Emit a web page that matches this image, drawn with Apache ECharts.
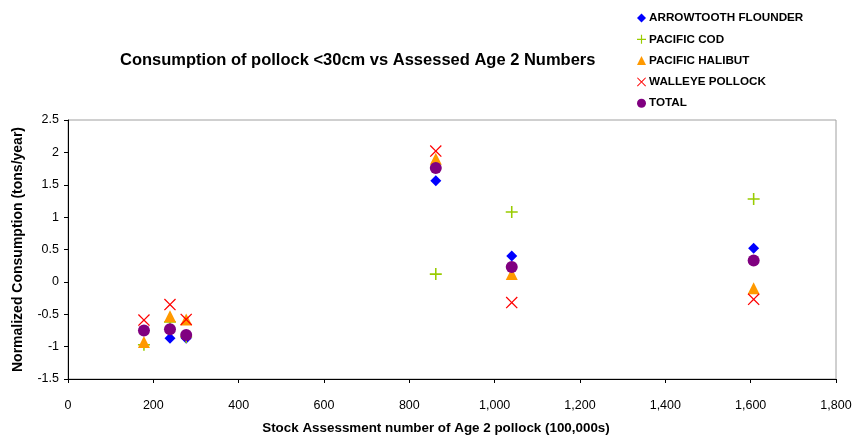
<!DOCTYPE html>
<html>
<head>
<meta charset="utf-8">
<script src="https://cdn.jsdelivr.net/npm/echarts@6/dist/echarts.min.js"></script>
<style>html,body{margin:0;padding:0;background:#fff}#c{width:856px;height:440px}</style>
</head>
<body>
<div id="c"></div>
<script>
var stockX = [178, 239, 277, 862, 1040, 1607];
var arrowtooth = [-0.75, -0.87, -0.87, 1.56, 0.40, 0.52];
var pacificCod = [-0.97, -0.62, -0.85, 0.12, 1.08, 1.28];
var halibut = [-0.93, -0.53, -0.58, 1.90, 0.12, -0.10];
var walleye = [-0.59, -0.35, -0.58, 2.02, -0.32, -0.27];
var total = [-0.75, -0.73, -0.82, 1.76, 0.23, 0.33];
var seriesNames = ['ARROWTOOTH FLOUNDER', 'PACIFIC COD', 'PACIFIC HALIBUT', 'WALLEYE POLLOCK', 'TOTAL'];
var titleText = 'Consumption of pollock <30cm vs Assessed Age 2 Numbers';
var xName = 'Stock Assessment number of Age 2 pollock (100,000s)';
var yName = 'Normalized Consumption (tons/year)';

function pairs(ys) { return stockX.map(function (x, i) { return [x, ys[i]]; }); }

var plusPath = 'path://M4.35,0 H5.65 V4.35 H10 V5.65 H5.65 V10 H4.35 V5.65 H0 V4.35 H4.35 Z';
var xPath = 'path://M0,0.75 L0.75,0 L5,4.25 L9.25,0 L10,0.75 L5.75,5 L10,9.25 L9.25,10 L5,5.75 L0.75,10 L0,9.25 L4.25,5 Z';

var font = 'Arial, "Liberation Sans", sans-serif';
var chart = echarts.init(document.getElementById('c'), null, {renderer: 'canvas'});
chart.setOption({
  animation: false,
  backgroundColor: '#fff',
  title: {
    text: titleText,
    left: 115, top: 47,
    textStyle: {fontFamily: font, fontSize: 16.5, fontWeight: 'bold', color: '#000'}
  },
  legend: {
    orient: 'vertical',
    left: 632, top: 7,
    itemWidth: 9, itemHeight: 9, itemGap: 9.3,
    textStyle: {fontFamily: font, fontSize: 11.7, fontWeight: 'bold', color: '#000', padding: [0, 0, 0, -2]},
    data: [
      {name: seriesNames[0], icon: 'diamond'},
      {name: seriesNames[1], icon: plusPath},
      {name: seriesNames[2], icon: 'triangle'},
      {name: seriesNames[3], icon: xPath},
      {name: seriesNames[4], icon: 'circle'}
    ]
  },
  grid: {left: 68, right: 20, top: 120, bottom: 54, show: true, borderColor: '#a0a0a0', borderWidth: 1},
  xAxis: {
    type: 'value', min: 0, max: 1800, interval: 200,
    name: xName, nameLocation: 'middle', nameGap: 43,
    nameTextStyle: {fontFamily: font, fontSize: 13.4, fontWeight: 'bold', color: '#000', padding: [0, 32, 0, 0]},
    axisLine: {show: true, onZero: false, lineStyle: {color: '#000'}},
    axisTick: {show: true, length: 4, lineStyle: {color: '#000'}},
    axisLabel: {fontFamily: font, fontSize: 12.5, color: '#000', margin: 20,
      formatter: function (v) { return v.toLocaleString('en-US'); }},
    splitLine: {show: false}
  },
  yAxis: {
    type: 'value', min: -1.5, max: 2.5, interval: 0.5,
    name: yName, nameLocation: 'middle', nameGap: 43, nameRotate: 90,
    nameTextStyle: {fontFamily: font, fontSize: 14, fontWeight: 'bold', color: '#000'},
    axisLine: {show: true, onZero: false, lineStyle: {color: '#000'}},
    axisTick: {show: true, length: 4, lineStyle: {color: '#000'}},
    axisLabel: {fontFamily: font, fontSize: 12.5, color: '#000', margin: 9},
    splitLine: {show: false}
  },
  series: [
    {name: seriesNames[0], type: 'scatter', data: pairs(arrowtooth), symbol: 'diamond', symbolSize: 11, itemStyle: {color: '#0000FF', opacity: 1}},
    {name: seriesNames[1], type: 'scatter', data: pairs(pacificCod), symbol: plusPath, symbolSize: 12, itemStyle: {color: '#99CC00', opacity: 1}},
    {name: seriesNames[2], type: 'scatter', data: pairs(halibut), symbol: 'triangle', symbolSize: 12, itemStyle: {color: '#FF9900', opacity: 1}},
    {name: seriesNames[3], type: 'scatter', data: pairs(walleye), symbol: xPath, symbolSize: 12, itemStyle: {color: '#FF0000', opacity: 1}},
    {name: seriesNames[4], type: 'scatter', data: pairs(total), symbol: 'circle', symbolSize: 12, itemStyle: {color: '#800080', opacity: 1}}
  ]
});
</script>
</body>
</html>
